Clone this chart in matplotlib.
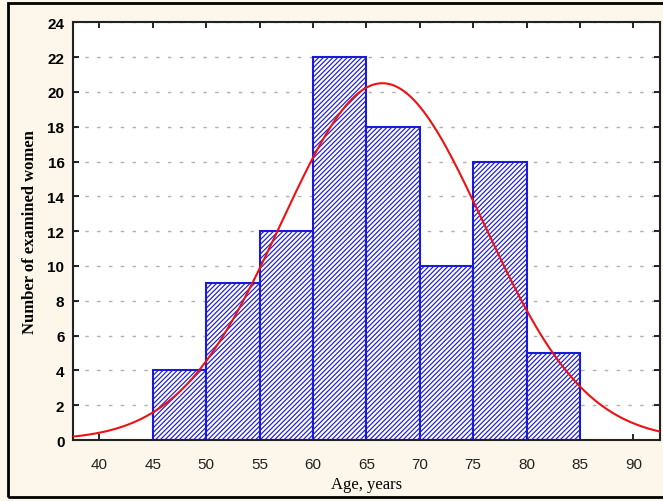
import numpy as np
import matplotlib
matplotlib.use('Agg')
import matplotlib.pyplot as plt
from matplotlib.patches import Rectangle

# Histogram data (age bins, number of women)
bin_edges = [45, 50, 55, 60, 65, 70, 75, 80, 85]
counts = [4, 9, 12, 22, 18, 10, 16, 5]

# Fitted normal curve parameters
curve_mean = 66.5
curve_sd = 9.5
curve_peak = 20.5

x_ticks = [40, 45, 50, 55, 60, 65, 70, 75, 80, 85, 90]
y_ticks = [0, 2, 4, 6, 8, 10, 12, 14, 16, 18, 20, 22, 24]

plt.rcParams['hatch.linewidth'] = 0.85

fig = plt.figure(figsize=(6.63, 5.02), dpi=100)
fig.patch.set_facecolor('#fcf7ea')

# outer frame
fig.patches.append(Rectangle((8 / 663, 4 / 502), 0.99, 494 / 502, transform=fig.transFigure,
                             fill=False, edgecolor='black', linewidth=2))

ax = fig.add_axes([0.1097, 0.1215, 0.8858, 0.8321])
ax.set_facecolor('white')

widths = np.diff(bin_edges)
ax.bar(bin_edges[:-1], counts, width=widths, align='edge', facecolor='white',
       edgecolor='#1a1adb', hatch='///////', linewidth=1.5, zorder=2)

xs = np.linspace(37.5, 92.5, 400)
ys = curve_peak * np.exp(-0.5 * ((xs - curve_mean) / curve_sd) ** 2)
ax.plot(xs, ys, color='#ee1111', linewidth=1.5, zorder=3)

ax.set_xlim(37.5, 92.5)
ax.set_ylim(0, 24)
ax.set_xticks(x_ticks)
ax.set_yticks(y_ticks)

ax.yaxis.grid(True, color='#b0b0b0', linestyle=(0, (2.5, 6)), linewidth=1.0, zorder=1)
ax.set_axisbelow(True)

ax.tick_params(axis='both', direction='in', length=4, width=1.2, top=True, right=True)
ax.tick_params(axis='x', pad=12)
ax.tick_params(axis='y', pad=6)
for lab in ax.get_xticklabels():
    lab.set_fontfamily('Liberation Sans')
    lab.set_fontsize(11)
    lab.set_color('#222222')
for lab in ax.get_yticklabels():
    lab.set_fontfamily('Liberation Sans')
    lab.set_fontsize(11)
    lab.set_fontweight('bold')

for s in ax.spines.values():
    s.set_linewidth(1.5)
    s.set_color('#222222')

ax.set_xlabel('Age, years', family='Liberation Serif', fontsize=12, labelpad=4)
ax.set_ylabel('Number of examined women', family='Liberation Serif', fontsize=12,
              fontweight='bold', labelpad=7)

fig.savefig('out.png', dpi=100, facecolor=fig.get_facecolor())
